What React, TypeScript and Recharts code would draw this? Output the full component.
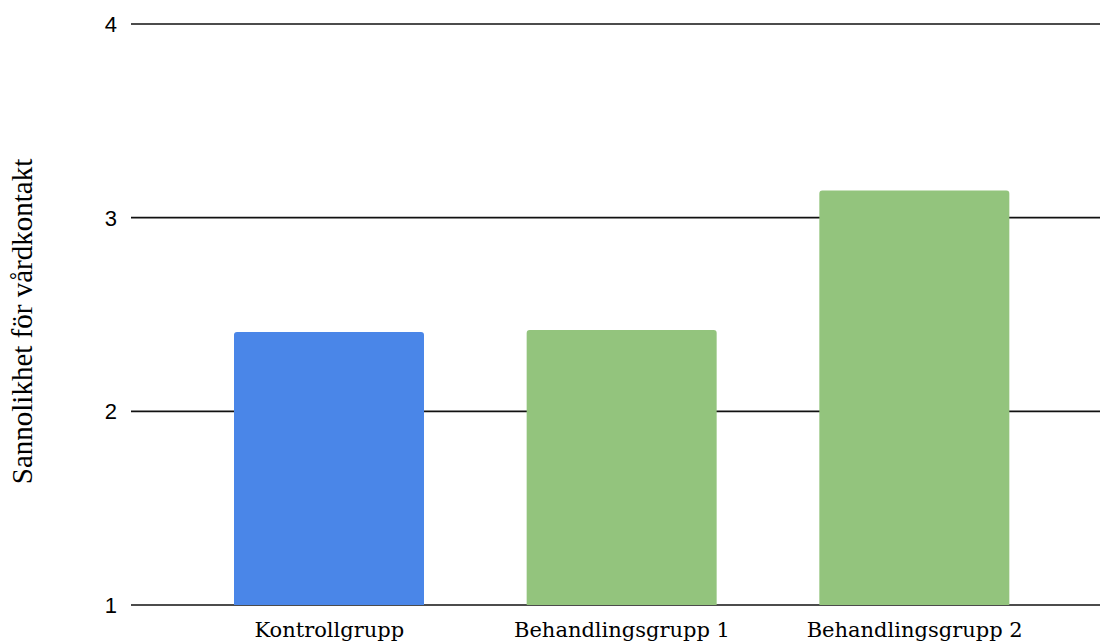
import { BarChart, Bar, XAxis, YAxis, CartesianGrid, Cell } from "recharts";

const groups = ["Kontrollgrupp", "Behandlingsgrupp 1", "Behandlingsgrupp 2"];
const values = [2.41, 2.42, 3.14];
const barColors = ["#4a86e8", "#93c47d", "#93c47d"];
const yTicks = [1, 2, 3, 4];
const yTitle = "Sannolikhet för vårdkontakt";

const data = groups.map((g, i) => ({ group: g, value: values[i] }));

function XTick({ x, y, payload }: any) {
  return (
    <text
      x={x}
      y={y + 32}
      textAnchor="middle"
      fontSize={21}
      fontFamily="DejaVu Serif"
      fill="#000"
    >
      {payload.value}
    </text>
  );
}

function YTick({ x, y, payload }: any) {
  return (
    <text
      x={x}
      y={y + 8}
      textAnchor="end"
      fontSize={22}
      fontFamily="Liberation Sans"
      fill="#000"
    >
      {payload.value}
    </text>
  );
}

// rotated axis title, centred a little below the plot middle like the original
function YTitle({ viewBox }: any) {
  const cx = 22;
  const cy = viewBox.y + viewBox.height / 2 + 7;
  return (
    <text
      x={cx}
      y={cy}
      transform={`rotate(-90 ${cx} ${cy})`}
      textAnchor="middle"
      dominantBaseline="central"
      fontSize={29}
      fontFamily="Liberation Serif"
      fill="#000"
    >
      {yTitle}
    </text>
  );
}

export default function App() {
  return (
    <div style={{ position: "absolute", left: 0, top: 0, background: "#fff" }}>
      <BarChart
        width={1100}
        height={641}
        data={data}
        margin={{ top: 24, right: 0, bottom: 0, left: 0 }}
        barSize={190}
      >
        <CartesianGrid vertical={false} stroke="#111" strokeWidth={1.6} />
        <XAxis
          dataKey="group"
          axisLine={false}
          tickLine={false}
          tick={<XTick />}
          tickMargin={0}
          tickSize={0}
          height={36}
          padding={{ left: 52, right: 39 }}
          interval={0}
        />
        <YAxis
          domain={[1, 4]}
          ticks={yTicks}
          axisLine={false}
          tickLine={false}
          tick={<YTick />}
          tickSize={0}
          tickMargin={14}
          width={131}
          label={<YTitle />}
        />
        <Bar dataKey="value" radius={[3, 3, 0, 0]} isAnimationActive={false}>
          {data.map((d, i) => (
            <Cell key={d.group} fill={barColors[i]} />
          ))}
        </Bar>
      </BarChart>
    </div>
  );
}
